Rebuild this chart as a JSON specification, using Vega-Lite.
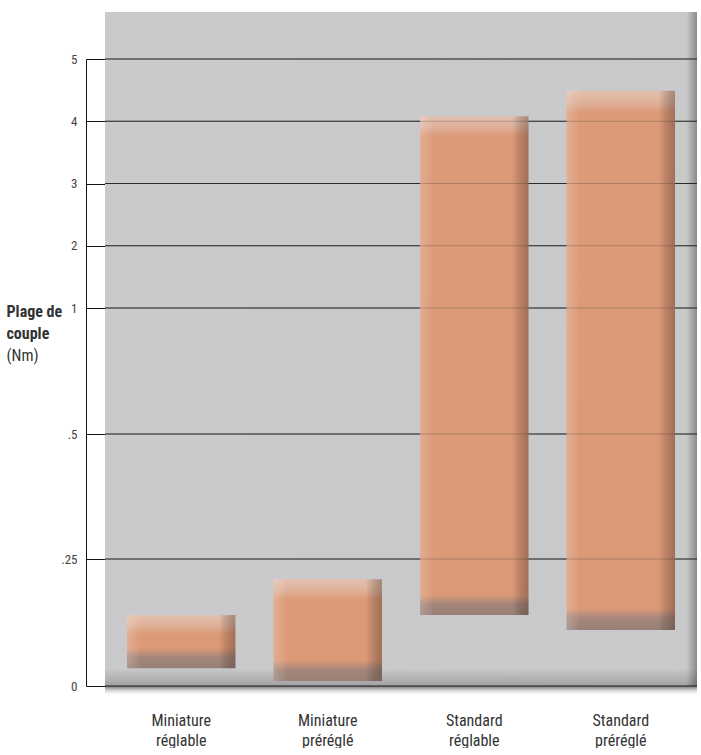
{
  "$schema": "https://vega.github.io/schema/vega-lite/v6.json",
  "width": 592,
  "height": 627,
  "padding": {"left": 6, "top": 12, "right": 0, "bottom": 0},
  "background": "white",
  "config": {
    "font": "Roboto Condensed, Liberation Sans Narrow, Roboto, sans-serif",
    "view": {"stroke": null}
  },
  "datasets": {
    "bars": [
      {"cat": "Miniature réglable", "low": 0.035, "high": 0.14, "size": "s"},
      {"cat": "Miniature préréglé", "low": 0.01, "high": 0.21, "size": "m"},
      {"cat": "Standard réglable", "low": 0.14, "high": 4.08, "size": "l"},
      {"cat": "Standard préréglé", "low": 0.11, "high": 4.49, "size": "l"}
    ],
    "grid": [{"v": 0}, {"v": 0.25}, {"v": 0.5}, {"v": 1}, {"v": 2}, {"v": 3}, {"v": 4}, {"v": 5}]
  },
  "data": {"values": [{}]},
  "layer": [
    {
      "mark": {"type": "rect", "fill": {"gradient": "linear", "x1": 0, "y1": 0, "x2": 1, "y2": 0, "stops": [
        {"offset": 0, "color": "#cacacc"}, {"offset": 0.982, "color": "#c9c9cb"}, {"offset": 1, "color": "#8a8a8a"}]}},
      "encoding": {
        "y": {"datum": 0, "type": "quantitative", "scale": {"type": "linear", "domain": [0, 0.25, 0.5, 1, 5], "range": [627, 500, 375, 249, 0]}},
        "y2": {"datum": 5.755}
      }
    },
    {
      "mark": {"type": "rect", "fill": {"gradient": "linear", "x1": 0, "y1": 0, "x2": 0, "y2": 1, "stops": [
        {"offset": 0, "color": "rgba(0,0,0,0)"}, {"offset": 1, "color": "rgba(0,0,0,0.2)"}]}},
      "encoding": {
        "y": {"datum": 0, "type": "quantitative"},
        "y2": {"datum": 0.035}
      }
    },
    {
      "mark": {"type": "rect", "fill": {"gradient": "linear", "x1": 0, "y1": 0, "x2": 0, "y2": 1, "stops": [
        {"offset": 0, "color": "rgba(50,50,50,0.7)"}, {"offset": 1, "color": "rgba(255,255,255,0)"}]}},
      "encoding": {
        "y": {"datum": 0, "type": "quantitative"},
        "y2": {"datum": -0.02}
      }
    },
    {
      "data": {"name": "grid"},
      "mark": {"type": "rule", "color": "#2a2a2a", "strokeWidth": 1},
      "encoding": {
        "y": {"field": "v", "type": "quantitative"}
      }
    },
    {
      "data": {"name": "bars"},
      "transform": [{"filter": "datum.size == 's'"}],
      "mark": {"type": "bar", "fill": {"gradient": "linear", "x1": 0, "y1": 0, "x2": 0, "y2": 1, "stops": [
        {"offset": 0, "color": "#e3c0ae"}, {"offset": 0.2, "color": "#dfb199"}, {"offset": 0.36, "color": "#dc9a78"},
        {"offset": 0.62, "color": "#db9977"}, {"offset": 0.8, "color": "#a5867a"}, {"offset": 1, "color": "#978076"}]}},
      "encoding": {
        "x": {"field": "cat", "type": "nominal", "sort": null,
          "scale": {"type": "band", "paddingInner": 0.26, "paddingOuter": 0.15},
          "axis": {"labelExpr": "split(datum.label, ' ')", "domain": false, "ticks": false, "grid": false, "labelAngle": 0,
            "labelPadding": 26, "labelFontSize": 16, "labelColor": "#333", "labelLineHeight": 20, "labelBaseline": "top",
            "title": "(Nm)", "titleAngle": 0, "titleAlign": "left", "titleBaseline": "alphabetic", "titleX": -99, "titleY": -326,
            "titleFontSize": 16, "titleFontWeight": "normal", "titleColor": "#333"}},
        "y": {"field": "high", "type": "quantitative",
          "axis": {"values": [0, 0.25, 0.5, 1, 2, 3, 4, 5],
            "labelExpr": "datum.value == 0.5 ? '.5' : datum.value == 0.25 ? '.25' : format(datum.value, 'd')",
            "offset": 19, "tickSize": -19, "tickColor": "#111", "domainColor": "#111", "grid": false,
            "labelPadding": 28, "labelFontSize": 13, "labelColor": "#444",
            "title": ["Plage de", "couple"], "titleAngle": 0, "titleAlign": "left", "titleBaseline": "alphabetic",
            "titleX": -80, "titleY": 257, "titleFontSize": 16, "titleFontWeight": "bold", "titleColor": "#333", "titleLineHeight": 22}},
        "y2": {"field": "low"}
      }
    },
    {
      "data": {"name": "bars"},
      "transform": [{"filter": "datum.size == 'm'"}],
      "mark": {"type": "bar", "fill": {"gradient": "linear", "x1": 0, "y1": 0, "x2": 0, "y2": 1, "stops": [
        {"offset": 0, "color": "#e3c0ae"}, {"offset": 0.11, "color": "#dfb199"}, {"offset": 0.2, "color": "#dc9a78"},
        {"offset": 0.8, "color": "#db9977"}, {"offset": 0.89, "color": "#a5867a"}, {"offset": 1, "color": "#978076"}]}},
      "encoding": {
        "x": {"field": "cat", "type": "nominal", "sort": null},
        "y": {"field": "high", "type": "quantitative"},
        "y2": {"field": "low"}
      }
    },
    {
      "data": {"name": "bars"},
      "transform": [{"filter": "datum.size == 'l'"}],
      "mark": {"type": "bar", "fill": {"gradient": "linear", "x1": 0, "y1": 0, "x2": 0, "y2": 1, "stops": [
        {"offset": 0, "color": "#e3c0ae"}, {"offset": 0.022, "color": "#dfb199"}, {"offset": 0.04, "color": "#dc9a78"},
        {"offset": 0.96, "color": "#db9977"}, {"offset": 0.978, "color": "#a5867a"}, {"offset": 1, "color": "#978076"}]}},
      "encoding": {
        "x": {"field": "cat", "type": "nominal", "sort": null},
        "y": {"field": "high", "type": "quantitative"},
        "y2": {"field": "low"}
      }
    },
    {
      "data": {"name": "bars"},
      "mark": {"type": "bar", "fill": {"gradient": "linear", "x1": 0, "y1": 0, "x2": 1, "y2": 0, "stops": [
        {"offset": 0, "color": "rgba(255,255,255,0.2)"}, {"offset": 0.13, "color": "rgba(255,255,255,0)"},
        {"offset": 0.85, "color": "rgba(0,0,0,0)"}, {"offset": 1, "color": "rgba(70,45,35,0.38)"}]}},
      "encoding": {
        "x": {"field": "cat", "type": "nominal", "sort": null},
        "y": {"field": "high", "type": "quantitative"},
        "y2": {"field": "low"}
      }
    },
    {
      "data": {"name": "grid"},
      "mark": {"type": "rule", "color": "#2a2a2a", "strokeWidth": 1, "opacity": 0.25},
      "encoding": {
        "y": {"field": "v", "type": "quantitative"}
      }
    }
  ]
}
